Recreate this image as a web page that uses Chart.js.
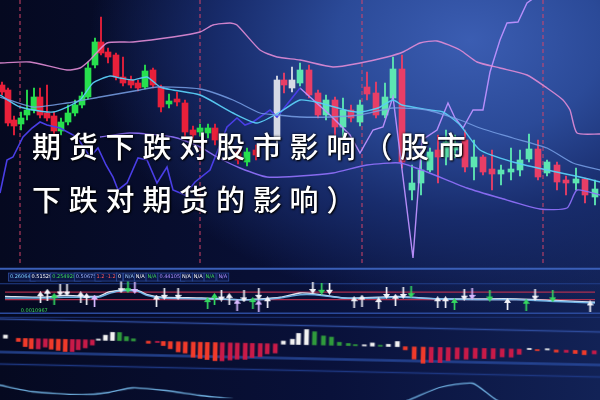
<!DOCTYPE html>
<html lang="zh">
<head>
<meta charset="utf-8">
<title>期货下跌对股市影响</title>
<script src="https://cdn.jsdelivr.net/npm/chart.js@4.4.1/dist/chart.umd.min.js"></script>
<style>
  html, body { margin: 0; padding: 0; }
  body {
    width: 600px; height: 400px; overflow: hidden; position: relative;
    background:
      radial-gradient(ellipse 380px 270px at 470px 40px, #3b5db2 0%, #2b4a98 35%, #182c6c 65%, rgba(12,20,56,0) 100%),
      linear-gradient(90deg, #050920 0%, #09113a 55%, #122256 100%);
  }
  canvas { position: absolute; }
  #topChart { left: 0; top: 0; width: 600px; height: 263px; }
  #midChart { left: 0; top: 262px; width: 600px; height: 62px; }
  #botChart { left: -10px; top: 322px; width: 620px; height: 78px; transform: rotate(1.24deg); }
  .title {
    position: absolute; left: 32px; color: #fff;
    font-family: "Noto Sans CJK SC", sans-serif; font-size: 29px; font-weight: 500;
    letter-spacing: 7.8px; line-height: 30px; white-space: nowrap;
    text-shadow: 0 0 3px #000, 1px 1px 2px #000;
  }
  #t1 { top: 130px; }
  #t2 { top: 183px; }
</style>
</head>
<body>
<canvas id="topChart" width="600" height="263"></canvas>
<canvas id="midChart" width="600" height="62"></canvas>
<canvas id="botChart" width="620" height="78"></canvas>
<div class="title" id="t1">期货下跌对股市影响（股市</div>
<div class="title" id="t2">下跌对期货的影响）</div>
<script>
// ---- price panel ----
const candleT = [2,8,14,21,27,34,40,47,54,61,68,75,82,88,95,101,108,116,123,131,138,145,153,161,169,177,185,193,200,208,215,238,247,256,277,284,292,300,309,318,326,335,343,351,360,367,376,385,393,402,412,421,430,438,446,455,465,474,483,492,501,511,520,529,538,547,557,566,576,585,595];
const candleOpen = [180,175,145,141,150,155,168,152,149,134,143,152,160,168,200,223,213,210,188,185,182,178,195,178,161,166,162,135,133,132,137,113,103,115,125,185,177,182,195,172,150,165,138,155,143,178,172,150,167,196,75,82,95,115,108,115,125,98,108,96,91,93,95,106,116,92,100,85,82,86,68];
const candleHigh = [183,177,149,153,175,177,177,180,153,147,160,165,173,203,227,248,217,212,208,189,185,200,197,180,171,173,165,139,141,141,141,118,117,120,189,192,198,202,200,175,170,168,167,160,165,193,183,182,208,210,100,105,117,130,135,130,135,125,110,115,100,117,115,131,125,105,103,89,97,87,85];
const candleLow = [170,139,130,135,145,152,147,144,130,130,140,149,157,166,197,210,202,185,179,177,174,176,177,153,157,159,127,125,129,127,120,101,99,105,122,172,173,179,167,147,145,130,125,143,139,165,147,147,165,97,65,70,93,82,100,107,93,85,90,75,80,85,89,103,85,89,75,70,75,62,60];
const candleClose = [173,142,139,147,155,168,150,147,134,143,152,160,169,197,223,212,208,188,182,180,177,194,180,158,164,163,133,130,137,137,125,105,113,110,185,180,185,195,170,150,165,138,155,147,160,171,150,168,196,103,82,95,113,108,123,122,98,108,93,91,95,96,105,116,88,103,83,82,86,70,76];

const upperBandT = [0,30,67,80,90,107,133,173,200,213,230,237,260,277,300,333,360,387,403,420,437,460,477,500,527,547,563,570,577,600];
const upperBandV = [202,203,195,197,205,222,223,228,233,240,242,240,215,208,205,198,202,208,213,222,224,215,203,197,190,177,165,155,132,131];
const slowMaT = [0,33,67,100,140,157,200,233,260,277,300,330,360,393,427,460,480,513,547,573,600];
const slowMaV = [168,158,162,168,175,178,176,165,152,150,148,148,150,157,155,145,137,127,117,102,95];
const fastMaT = [0,20,53,80,93,110,120,133,147,160,173,200,233,257,280,300,320,345,360,378,393,402,430,443,460,480,513,547,580,600];
const fastMaV = [170,158,153,165,182,189,187,185,188,178,175,170,152,142,153,165,162,155,153,157,165,160,155,153,140,115,103,95,88,83];
const lowerBandT = [100,130,173,200,217,240,267,300,333,367,400,427,467,500,540,567,577,600];
const lowerBandV = [128,132,128,118,108,97,88,89,92,100,102,93,77,67,56,57,75,70];
const zigzagT = [0,7,13,23,32,40,47,60,77,90,98,106,113,118,127,138,147,157,167,173,185,195,210,227,237,245,253,270,277,300];
const zigzagV = [72,105,108,128,137,143,140,137,128,108,117,100,88,75,82,107,105,82,98,75,70,83,95,138,147,140,143,155,148,177];
const swingT = [300,330,350,360,373,383,393,413,422,437,448,455,463,473,483,490,500,507,518,527,545];
const swingV = [177,150,130,112,135,138,168,7,125,135,162,147,137,155,155,193,225,242,243,262,275];
const sessionT = [20, 200, 362, 543];

// ---- signal panel ----
const sigLineT = [0,40,60,95,105,115,125,135,145,160,200,240,260,280,300,315,345,380,400,440,480,520,560,600];
const sigLineV = [23,22,24,23,28,30,31,30,25,22,21,19,20,22,27,26,21,22,23,20,20,20,18,16];
const sigLine2V = [21,21,22,22,26,29,30,29,24,21,20,19,19,21,25,25,21,21,22,20,19,19,17,15];
const levelHigh = 28, levelLow = 19;
const sellWhiteT = [56,63,118,162,176,220,243,258,313,330,388,405,467,539];
const sellWhiteV = [30,30,34,26,26,24,23,26,33,32,27,27,25,25];
const sellGreenT = [125,322,413,493,557];
const sellGreenV = [34,32,28,24,23];
const sellVioletT = [132,475];
const sellVioletV = [33,26];
const buyWhiteT = [36,43,77,83,154,228,267,355,363,380,397,440,448,511,595];
const buyWhiteV = [22,25,22,20,18,20,16,16,18,15,19,16,16,14,11];
const buyGreenT = [50,206,213,252,457,530];
const buyGreenV = [20,15,20,15,14,13];
const buyVioletT = [91,236,258];
const buyVioletV = [18,13,12];
const headerText = ['0.260647','0.515294','0.2549281','0.506756','1.2 -1.2','0','N/A','N/A','N/A','0.441056','N/A','N/A','N/A','N/A'];
const headerT = [5,27,48,72,93,115,122,133,145,157,180,192,204,217];
const footerText = ['0.0010967'];
const footerT = [16];

// ---- histogram panel ----
const histT = [5,18,25,31,38,45,51,58,65,72,78,85,92,98,105,112,119,126,133,148,157,163,170,178,185,193,200,207,215,222,230,237,245,252,260,267,275,283,292,298,306,314,323,331,339,348,355,364,372,380,388,397,405,414,423,431,440,448,457,466,475,484,493,502,511,519,529,537,547,556,566,575,584,594];
const histV = [3,-3,-8,-10,-10,-8,-10,-11,-12,-12,-10,-8,-5,1,5,8,8,4,2,-2,-1,-4,-7,-10,-11,-15,-16,-17,-18,-18,-17,-16,-16,-14,-13,-10,-9,3,5,11,15,13,9,8,3,2,0.5,1,3,0.5,2,5,-3,-12,-16,-15,-15,-13,-11,-11,-10,-10,-10,-8,-8,-5,1,-1,1,-2,-2,-3,-4,-3];
const curveT = [0,33,83,110,133,167,200,233,300,390,410,440,473,497,530,600];
const curveV = [-47,-53,-55,-52,-47,-49,-53,-56,-64,-60,-53,-40,-35,-51,-62,-66];

function pts(ts, vs) { return ts.map((t, i) => ({ x: t, y: vs[i] })); }

function candleColor(i) {
    const t = candleT[i];
    if (candleClose[i] >= candleOpen[i]) {
        if (t > 270 && t < 296) return '#d6dae6';
        return t < 265 ? '#27e04e' : '#5de6b2';
    }
    return t < 265 ? '#e8203a' : '#e83e66';
}

function line(ts, vs, color, width, order, tension) {
    return { type: 'line', data: pts(ts, vs), borderColor: color, borderWidth: width,
             pointRadius: 0, tension: tension === undefined ? 0.2 : tension, fill: false, order: order };
}

const baseOpts = {
    responsive: false, animation: false, events: [],
    layout: { padding: 0 },
    plugins: { legend: { display: false }, tooltip: { enabled: false }, title: { display: false } }
};

// Chart.js code
const topDatasets = [
    line(upperBandT, upperBandV, 'rgba(226,140,214,0.9)', 1.4, 1),
    line(slowMaT, slowMaV, 'rgba(120,160,230,0.85)', 1.3, 1),
    line(fastMaT, fastMaV, 'rgba(90,205,245,0.95)', 1.4, 1),
    line(lowerBandT, lowerBandV, 'rgba(140,110,245,0.95)', 1.4, 1),
    line(zigzagT, zigzagV, '#4a3ee6', 1.6, 1, 0),
    line(swingT, swingV, 'rgba(190,145,255,0.95)', 1.4, 1, 0),
    {
        type: 'bar', grouped: false, order: 3, barThickness: 1.2,
        data: candleT.map((t, i) => ({ x: t, y: [candleLow[i], candleHigh[i]] })),
        backgroundColor: ctx => candleColor(ctx.dataIndex)
    },
    {
        type: 'bar', grouped: false, order: 2, barThickness: 6, minBarLength: 2,
        data: candleT.map((t, i) => ({ x: t, y: [Math.min(candleOpen[i], candleClose[i]), Math.max(candleOpen[i], candleClose[i])] })),
        backgroundColor: ctx => candleColor(ctx.dataIndex)
    }
];
sessionT.forEach(t => topDatasets.push({
    type: 'line', data: [{ x: t, y: 2 }, { x: t, y: 265 }], borderColor: 'rgba(215,70,105,0.75)',
    borderWidth: 1.3, borderDash: [4, 3], pointRadius: 0, order: 6
}));

new Chart(document.getElementById('topChart'), {
    type: 'bar',
    data: { datasets: topDatasets },
    options: Object.assign({}, baseOpts, {
        scales: {
            x: { type: 'linear', min: 0, max: 600, offset: false, display: false },
            y: { min: 2, max: 265, display: false }
        }
    })
});

function arrowImg(color, up) {
    const c = document.createElement('canvas');
    c.width = 7; c.height = 12;
    const g = c.getContext('2d');
    g.fillStyle = color;
    g.fillRect(2.7, up ? 4 : 0, 1.7, 8);
    g.beginPath();
    if (up) { g.moveTo(3.5, 0); g.lineTo(7, 5); g.lineTo(0, 5); }
    else { g.moveTo(3.5, 12); g.lineTo(7, 7); g.lineTo(0, 7); }
    g.fill();
    return c;
}

function arrows(ts, vs, color, up) {
    return { type: 'line', showLine: false, data: pts(ts, vs), pointStyle: arrowImg(color, up), pointRadius: 4, order: 0 };
}

const midDecor = {
    id: 'midDecor',
    beforeDatasetsDraw(chart) {
        const c = chart.ctx, y = chart.scales.y;
        const rules = [[56, '#3a5fb8', 2], [38, '#223f8a', 1.2], [3, '#2b4a9c', 1.5], [-2, '#1d3478', 1]];
        c.save();
        rules.forEach(r => {
            c.strokeStyle = r[1]; c.lineWidth = r[2];
            c.beginPath(); c.moveTo(0, y.getPixelForValue(r[0])); c.lineTo(600, y.getPixelForValue(r[0])); c.stroke();
        });
        c.restore();
    },
    afterDatasetsDraw(chart) {
        const c = chart.ctx, x = chart.scales.x, y = chart.scales.y;
        const colors = ['#7fd0ff','#ffffff','#3ddc5a','#9fb8ff','#ff5a5a','#ffffff','#9fd0ff','#ffffff','#3ddc5a','#b090ff','#ffffff','#ffffff','#3ddc5a','#b090ff'];
        c.save();
        c.font = '5px "DejaVu Sans"';
        c.textBaseline = 'middle';
        headerText.forEach((s, i) => {
            const px = x.getPixelForValue(headerT[i]), py = y.getPixelForValue(46);
            const w = c.measureText(s).width;
            c.fillStyle = '#0b1646'; c.fillRect(px - 1.5, py - 4, w + 3, 8);
            c.strokeStyle = '#2d4c9a'; c.lineWidth = 0.8; c.strokeRect(px - 1.5, py - 4, w + 3, 8);
            c.fillStyle = colors[i]; c.fillText(s, px, py);
        });
        footerText.forEach((s, i) => {
            const px = x.getPixelForValue(footerT[i]), py = y.getPixelForValue(6);
            c.fillStyle = '#3ddc5a'; c.fillText(s, px, py);
        });
        c.restore();
    }
};

new Chart(document.getElementById('midChart'), {
    type: 'line',
    data: { datasets: [
        line(sigLineT, sigLine2V, 'rgba(120,190,240,0.9)', 1.6, 2),
        line(sigLineT, sigLineV, 'rgba(235,240,250,0.95)', 1.4, 2),
        line([0, 600], [levelHigh, levelHigh], 'rgba(200,50,80,0.85)', 1.2, 3),
        line([0, 600], [levelLow, levelLow], 'rgba(200,50,80,0.85)', 1.2, 3),
        arrows(sellWhiteT, sellWhiteV, '#f2f2f8', false),
        arrows(sellGreenT, sellGreenV, '#34d860', false),
        arrows(sellVioletT, sellVioletV, '#d8b8ff', false),
        arrows(buyWhiteT, buyWhiteV, '#f2f2f8', true),
        arrows(buyGreenT, buyGreenV, '#34d860', true),
        arrows(buyVioletT, buyVioletV, '#d8b8ff', true)
    ] },
    options: Object.assign({}, baseOpts, {
        scales: {
            x: { type: 'linear', min: 0, max: 600, display: false },
            y: { min: -4, max: 58, display: false }
        }
    }),
    plugins: [midDecor]
});

function histColor(i) {
    const v = histV[i], prev = i > 0 ? histV[i - 1] : 0;
    if (v >= 0) return v > prev ? '#f2f2f2' : '#2f9a3c';
    return v < prev ? '#f03a2a' : '#c81a48';
}

const botDecor = {
    id: 'botDecor',
    beforeDatasetsDraw(chart) {
        const c = chart.ctx, y = chart.scales.y;
        const rules = [[19, '#2c4a9a', 1.5], [-14, 'rgba(40,75,160,0.8)', 2.5], [-26, '#1c3680', 1.5]];
        c.save();
        rules.forEach(r => {
            c.strokeStyle = r[1]; c.lineWidth = r[2];
            c.beginPath(); c.moveTo(0, y.getPixelForValue(r[0])); c.lineTo(620, y.getPixelForValue(r[0])); c.stroke();
        });
        c.restore();
    }
};

new Chart(document.getElementById('botChart'), {
    type: 'bar',
    data: { datasets: [
        line(curveT, curveV, 'rgba(120,190,240,0.9)', 1.3, 1),
        {
            type: 'bar', order: 2, barThickness: 4, minBarLength: 1,
            data: pts(histT, histV),
            backgroundColor: ctx => histColor(ctx.dataIndex)
        }
    ] },
    options: Object.assign({}, baseOpts, {
        scales: {
            x: { type: 'linear', min: -10, max: 610, offset: false, display: false },
            y: { min: -55.5, max: 22.5, display: false }
        }
    }),
    plugins: [botDecor]
});
</script>
</body>
</html>
